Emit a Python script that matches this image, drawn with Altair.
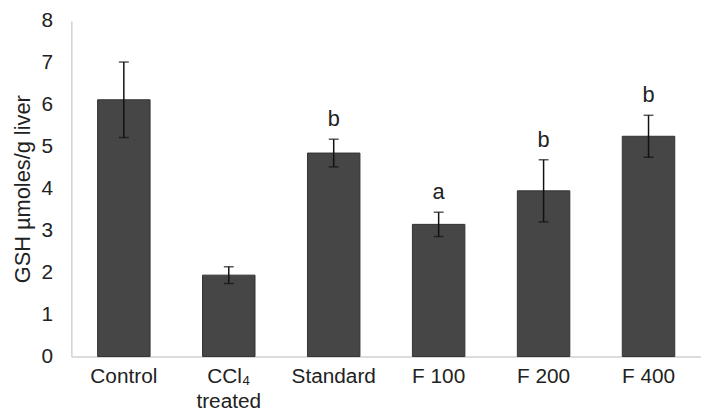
import altair as alt
import pandas as pd

groups = ["Control", "CCl4 treated", "Standard", "F 100", "F 200", "F 400"]
means = [6.12, 1.94, 4.85, 3.15, 3.95, 5.25]
errors = [0.9, 0.2, 0.33, 0.29, 0.74, 0.5]
letters = ["", "", "b", "a", "b", "b"]

df = pd.DataFrame({
    "group": groups,
    "mean": means,
    "lo": [m - e for m, e in zip(means, errors)],
    "hi": [m + e for m, e in zip(means, errors)],
    "letter": letters,
})

label_expr = "datum.value == 'CCl4 treated' ? ['CCl\u2084', 'treated'] : datum.value"
FONT = "Liberation Sans"

x = alt.X("group:N", sort=groups, title=None,
          scale=alt.Scale(paddingInner=0.5, paddingOuter=0.25),
          axis=alt.Axis(labelAngle=0, labelFontSize=21, labelColor="#222",
                        labelFont=FONT, labelPadding=9,
                        ticks=False, domainColor="#d0d0d0", domainWidth=1.5,
                        labelExpr=label_expr, labelLineHeight=25))
y = alt.Y("mean:Q", title="GSH \u00b5moles/g liver",
          scale=alt.Scale(domain=[0, 8], nice=False),
          axis=alt.Axis(values=list(range(0, 9)), grid=False, ticks=False,
                        labelFontSize=21, labelColor="#222", labelFont=FONT,
                        labelPadding=19, domainColor="#d0d0d0", domainWidth=1.5,
                        titleFontSize=22, titleFont=FONT, titleColor="#222",
                        titleFontWeight="normal", titlePadding=7))

base = alt.Chart(df)

bars = base.mark_bar(color="#464646", stroke="#333", strokeWidth=1).encode(x=x, y=y)
rules = base.mark_rule(color="#111", strokeWidth=1.5).encode(
    x=alt.X("group:N", sort=groups), y="lo:Q", y2="hi:Q")
caps_hi = base.mark_tick(color="#111", size=10, thickness=1.5).encode(
    x=alt.X("group:N", sort=groups), y="hi:Q")
caps_lo = base.mark_tick(color="#111", size=10, thickness=1.5).encode(
    x=alt.X("group:N", sort=groups), y="lo:Q")
text = base.mark_text(fontSize=22, font=FONT, color="#222", baseline="bottom", dy=-8).encode(
    x=alt.X("group:N", sort=groups), y="hi:Q", text="letter:N")

chart = alt.layer(bars, rules, caps_hi, caps_lo, text).properties(
    width=636, height=339,
    autosize=alt.AutoSizeParams(type="none"),
    padding={"left": 64, "top": 11, "right": 0, "bottom": 54},
).configure_view(stroke=None)

chart.save("out.html", embed_options={"renderer": "svg", "actions": False})
